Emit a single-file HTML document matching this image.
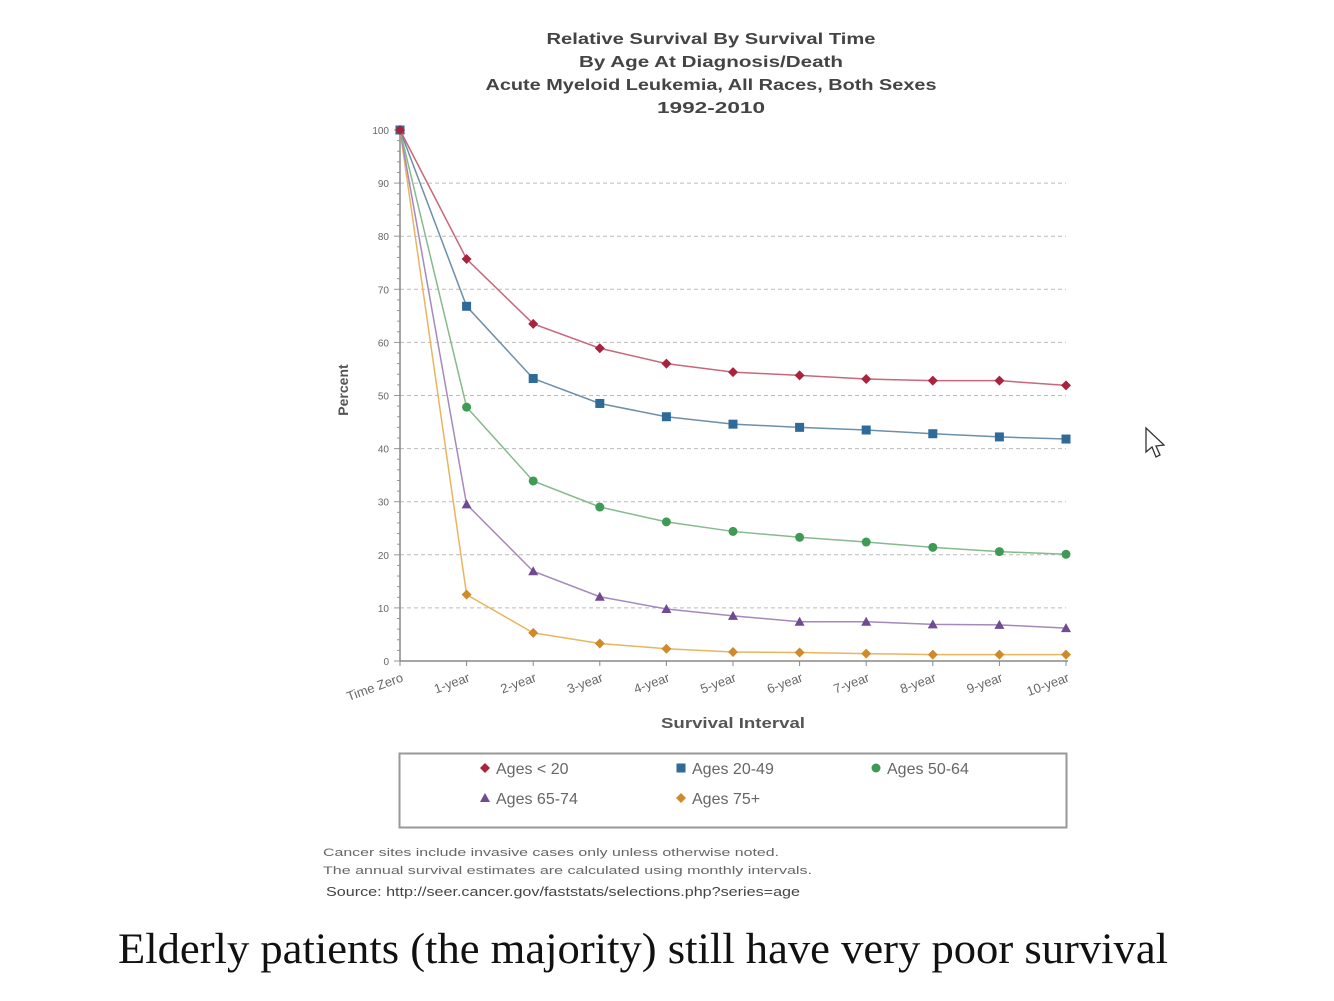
<!DOCTYPE html>
<html><head><meta charset="utf-8"><style>
html,body{margin:0;padding:0;background:#fff;}
body{width:1334px;height:1001px;overflow:hidden;position:relative;font-family:"Liberation Sans",sans-serif;}
svg{position:absolute;left:0;top:0;}
</style></head><body>
<svg id="chart" width="1334" height="1001" viewBox="0 0 1334 1001">
<g font-family="Liberation Sans, sans-serif" font-weight="bold" font-size="16" fill="#444" text-anchor="middle">
<text x="711" y="44" textLength="329" lengthAdjust="spacingAndGlyphs">Relative Survival By Survival Time</text>
<text x="711" y="67" textLength="264" lengthAdjust="spacingAndGlyphs">By Age At Diagnosis/Death</text>
<text x="711" y="90" textLength="451" lengthAdjust="spacingAndGlyphs">Acute Myeloid Leukemia, All Races, Both Sexes</text>
<text x="711" y="113" textLength="108" lengthAdjust="spacingAndGlyphs">1992-2010</text>
</g>
<g id="grid"></g>
<g id="axes"></g>
<g id="series"></g>
<text x="348" y="390" transform="rotate(-90 348 390)" text-anchor="middle" font-size="14" font-weight="bold" fill="#555">Percent</text>
<text x="733" y="728" text-anchor="middle" font-size="15" font-weight="bold" fill="#555" textLength="144" lengthAdjust="spacingAndGlyphs">Survival Interval</text>
<g>
<rect x="399.5" y="753.5" width="667" height="74" fill="#fff" stroke="#999" stroke-width="2"/>
<g id="legend-items"></g>
</g>
<g font-size="11" fill="#666">
<text x="323" y="856" textLength="456" lengthAdjust="spacingAndGlyphs">Cancer sites include invasive cases only unless otherwise noted.</text>
<text x="323" y="874" textLength="489" lengthAdjust="spacingAndGlyphs">The annual survival estimates are calculated using monthly intervals.</text>
<text x="326" y="896" font-size="13" fill="#444" textLength="474" lengthAdjust="spacingAndGlyphs">Source: http://seer.cancer.gov/faststats/selections.php?series=age</text>
</g>
<text x="118" y="963" font-family="Liberation Serif, serif" font-size="43" fill="#111" textLength="1050" lengthAdjust="spacingAndGlyphs">Elderly patients (the majority) still have very poor survival</text>
<path d="M1146 428 L1146 452 L1152 447 L1156 457 L1160 455 L1156 446 L1164 445 Z" fill="#fff" stroke="#333" stroke-width="1.3"/>
</svg>
<script>
const categories=["Time Zero","1-year","2-year","3-year","4-year","5-year","6-year","7-year","8-year","9-year","10-year"];
const yTicks=[0,10,20,30,40,50,60,70,80,90,100];
const seriesNames=["Ages < 20","Ages 20-49","Ages 50-64","Ages 65-74","Ages 75+"];
const ages0_19=[100,75.7,63.5,58.9,56.0,54.4,53.8,53.1,52.8,52.8,51.9];
const ages20_49=[100,66.8,53.2,48.5,46.0,44.6,44.0,43.5,42.8,42.2,41.8];
const ages50_64=[100,47.8,33.9,29.0,26.2,24.4,23.3,22.4,21.4,20.6,20.1];
const ages65_74=[100,29.5,16.9,12.1,9.8,8.5,7.4,7.4,6.9,6.8,6.2];
const ages75p=[100,12.5,5.3,3.3,2.3,1.7,1.6,1.4,1.2,1.2,1.2];
const allSeries=[ages0_19,ages20_49,ages50_64,ages65_74,ages75p];
const markerColors=["#a8233b","#2f6b9a","#3f9a55","#6e4b92","#d08a2a"];
const lineColors=["#c8687a","#6d8fa8","#86b98e","#a48abc","#e9b560"];
const shapes=["diamond","square","circle","triangle","diamond"];
const NS="http://www.w3.org/2000/svg";
const X0=400,X1=1066,Y0=661,Y1=130;
const xs=i=>X0+(X1-X0)*i/(categories.length-1);
const ys=v=>Y0-(Y0-Y1)*v/100;
function mk(tag,attrs,parent){const e=document.createElementNS(NS,tag);for(const k in attrs)e.setAttribute(k,attrs[k]);parent.appendChild(e);return e;}
const grid=document.getElementById('grid'),axes=document.getElementById('axes'),ser=document.getElementById('series');
yTicks.forEach(t=>{
  if(t>0&&t<100){const l=mk('line',{x1:X0,x2:X1,y1:ys(t),y2:ys(t),stroke:'#bbb','stroke-dasharray':'4,3'},grid);
  
  }
  const tx=mk('text',{x:X0-11,y:ys(t)+4,'text-anchor':'end','font-size':'10',fill:'#666'},axes);tx.textContent=t;
  
  
});
for(let v=0;v<=100;v+=2){mk('line',{x1:X0-(v%10==0?6:3),x2:X0,y1:ys(v),y2:ys(v),stroke:'#999'},axes);}
mk('line',{x1:X0,x2:X0,y1:Y1,y2:Y0,stroke:'#888','stroke-width':1.5},axes);
mk('line',{x1:X0,x2:X1+2,y1:Y0,y2:Y0,stroke:'#888','stroke-width':1.5},axes);
categories.forEach((c,i)=>{
  mk('line',{x1:xs(i),x2:xs(i),y1:Y0,y2:Y0+5,stroke:'#888'},axes);
  const x=xs(i)+4,y=Y0+20;
  const tx=mk('text',{x:x,y:y,'text-anchor':'end','font-size':'13',fill:'#666',transform:`rotate(-20 ${x} ${y})`},axes);tx.textContent=c;
  
  
});
function marker(shape,cx,cy,color,parent){
  let e;
  if(shape=='square')e=mk('rect',{x:cx-4.5,y:cy-4.5,width:9,height:9,fill:color},parent);
  else if(shape=='circle')e=mk('circle',{cx:cx,cy:cy,r:4.5,fill:color},parent);
  else if(shape=='triangle')e=mk('path',{d:`M${cx} ${cy-5}L${cx+5} ${cy+4}L${cx-5} ${cy+4}Z`,fill:color},parent);
  else e=mk('path',{d:`M${cx} ${cy-5}L${cx+5} ${cy}L${cx} ${cy+5}L${cx-5} ${cy}Z`,fill:color},parent);
  return e;
}
for(let s=allSeries.length-1;s>=0;s--){
  const vals=allSeries[s];
  const g=mk('g',{},ser);
  
  
  const pl=mk('polyline',{points:vals.map((v,i)=>xs(i)+','+ys(v)).join(' '),fill:'none',stroke:lineColors[s],'stroke-width':1.5},g);
  
  
  vals.forEach((v,i)=>{const m=marker(shapes[s],xs(i),ys(v),markerColors[s],g);
    
    });
}
const li=document.getElementById('legend-items');
const legPos=[[485,768],[681,768],[876,768],[485,798],[681,798]];
seriesNames.forEach((n,s)=>{
  const g=mk('g',{},li);
  
  
  marker(shapes[s],legPos[s][0],legPos[s][1],markerColors[s],g);
  const t=mk('text',{x:legPos[s][0]+11,y:legPos[s][1]+6,'font-size':'16',fill:'#666'},g);t.textContent=n;
});
</script>
</body></html>
